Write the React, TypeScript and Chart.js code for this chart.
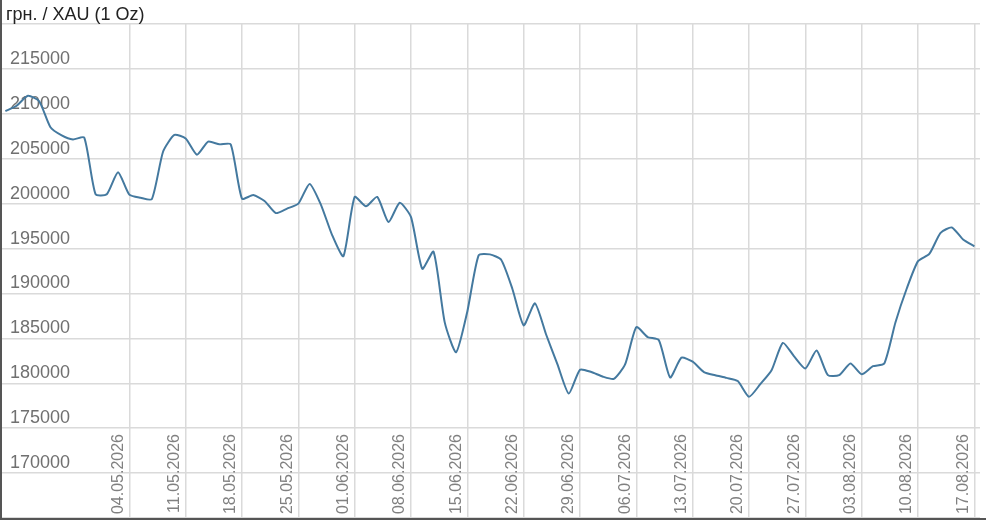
import { useEffect, useRef } from "react";
import { Chart, registerables } from "chart.js";

Chart.register(...registerables);

// business days shown on the chart
const dates = [
  "17.04.2026",
  "20.04.2026", "21.04.2026", "22.04.2026", "23.04.2026", "24.04.2026",
  "27.04.2026", "28.04.2026", "29.04.2026", "30.04.2026", "01.05.2026",
  "04.05.2026", "05.05.2026", "06.05.2026", "07.05.2026", "08.05.2026",
  "11.05.2026", "12.05.2026", "13.05.2026", "14.05.2026", "15.05.2026",
  "18.05.2026", "19.05.2026", "20.05.2026", "21.05.2026", "22.05.2026",
  "25.05.2026", "26.05.2026", "27.05.2026", "28.05.2026", "29.05.2026",
  "01.06.2026", "02.06.2026", "03.06.2026", "04.06.2026", "05.06.2026",
  "08.06.2026", "09.06.2026", "10.06.2026", "11.06.2026", "12.06.2026",
  "15.06.2026", "16.06.2026", "17.06.2026", "18.06.2026", "19.06.2026",
  "22.06.2026", "23.06.2026", "24.06.2026", "25.06.2026", "26.06.2026",
  "29.06.2026", "30.06.2026", "01.07.2026", "02.07.2026", "03.07.2026",
  "06.07.2026", "07.07.2026", "08.07.2026", "09.07.2026", "10.07.2026",
  "13.07.2026", "14.07.2026", "15.07.2026", "16.07.2026", "17.07.2026",
  "20.07.2026", "21.07.2026", "22.07.2026", "23.07.2026", "24.07.2026",
  "27.07.2026", "28.07.2026", "29.07.2026", "30.07.2026", "31.07.2026",
  "03.08.2026", "04.08.2026", "05.08.2026", "06.08.2026", "07.08.2026",
  "10.08.2026", "11.08.2026", "12.08.2026", "13.08.2026", "14.08.2026",
  "17.08.2026",
];

// UAH per troy ounce
const prices = [
  210300,
  210900, 212000, 211400, 208500, 207600,
  207150, 207350, 201050, 201050, 203500,
  201000, 200650, 200500, 205800, 207650,
  207250, 205450, 206900, 206600, 206600,
  200550, 200950, 200300, 198950, 199450,
  200000, 202200, 199900, 196500, 194150,
  200750, 199700, 200750, 197950, 200100,
  198500, 192750, 194650, 186750, 183450,
  188000, 194250, 194350, 193750, 190500,
  186450, 188900, 185400, 182100, 178850,
  181500, 181250, 180750, 180500, 182100,
  186250, 185150, 184800, 180650, 182850,
  182400, 181250, 180900, 180600, 180250,
  178500, 179900, 181450, 184500, 183000,
  181650, 183650, 180900, 180900, 182200,
  181000, 181900, 182200, 186800, 190550,
  193600, 194400, 196750, 197350, 196000,
  195250,
];

const tickDates = [
  "04.05.2026", "11.05.2026", "18.05.2026", "25.05.2026",
  "01.06.2026", "08.06.2026", "15.06.2026", "22.06.2026",
  "29.06.2026", "06.07.2026", "13.07.2026", "20.07.2026",
  "27.07.2026", "03.08.2026", "10.08.2026", "17.08.2026",
];

const yMin = 165000;
const yMax = 220000;
const yStep = 5000;

const title = "грн. / XAU (1 Oz)";

export default function App() {
  const canvasRef = useRef<HTMLCanvasElement | null>(null);

  useEffect(() => {
    if (!canvasRef.current) return;

    const points = prices.map((v, i) => ({ x: i, y: v }));

    const chart = new Chart(canvasRef.current, {
      type: "line",
      data: {
        datasets: [
          {
            data: points,
            borderColor: "#44799f",
            borderWidth: 2,
            tension: 0.2,
            pointRadius: 0,
            fill: false,
          },
        ],
      },
      options: {
        responsive: false,
        animation: false,
        layout: { padding: { top: 24, right: 6, bottom: 0, left: 0 } },
        plugins: {
          legend: { display: false },
          tooltip: { enabled: false },
        },
        scales: {
          x: {
            type: "linear",
            min: -0.3,
            max: 86.5,
            afterBuildTicks: (scale) => {
              scale.ticks = tickDates.map((d) => ({ value: dates.indexOf(d) }));
            },
            afterFit: (scale) => {
              // labels sit inside the plot, so the axis takes no room
              scale.height = 0;
              scale.paddingLeft = 0;
              scale.paddingRight = 0;
            },
            grid: { color: "#dadada", lineWidth: 1.5, drawTicks: false },
            border: { display: false },
            ticks: {
              autoSkip: false,
              minRotation: 90,
              maxRotation: 90,
              mirror: true,
              padding: 84,
              labelOffset: 8,
              color: "#808080",
              font: { family: "Arial, 'Liberation Sans', sans-serif", size: 16 },
              callback: (v) => dates[Number(v)] ?? "",
            },
          },
          y: {
            min: yMin,
            max: yMax,
            afterFit: (scale) => {
              scale.width = 0;
              scale.paddingTop = 0;
              scale.paddingBottom = 0;
            },
            grid: { color: "#dadada", lineWidth: 1.5, drawTicks: false },
            border: { display: false },
            ticks: {
              stepSize: yStep,
              mirror: true,
              padding: 8,
              labelOffset: -10,
              color: "#707070",
              font: { family: "Arial, 'Liberation Sans', sans-serif", size: 18 },
              callback: (v) =>
                Number(v) > yMin && Number(v) < yMax ? String(v) : "",
            },
          },
        },
      },
    });

    return () => {
      chart.destroy();
    };
  }, []);

  return (
    <div
      style={{
        position: "fixed",
        left: 0,
        top: 0,
        width: 986,
        height: 522,
        background: "#fff",
      }}
    >
      <div
        style={{
          position: "absolute",
          left: 0,
          top: 0,
          width: 986,
          height: 520,
          boxSizing: "border-box",
          borderLeft: "2px solid #555",
          borderBottom: "2px solid #555",
        }}
      >
        <canvas
          ref={canvasRef}
          width={984}
          height={518}
          style={{ display: "block" }}
        />
      </div>
      <div
        style={{
          position: "absolute",
          left: 6,
          top: 4,
          lineHeight: "21px",
          fontSize: 18,
          fontFamily: "Arial, 'Liberation Sans', sans-serif",
          color: "#222",
          whiteSpace: "nowrap",
        }}
      >
        {title}
      </div>
    </div>
  );
}
